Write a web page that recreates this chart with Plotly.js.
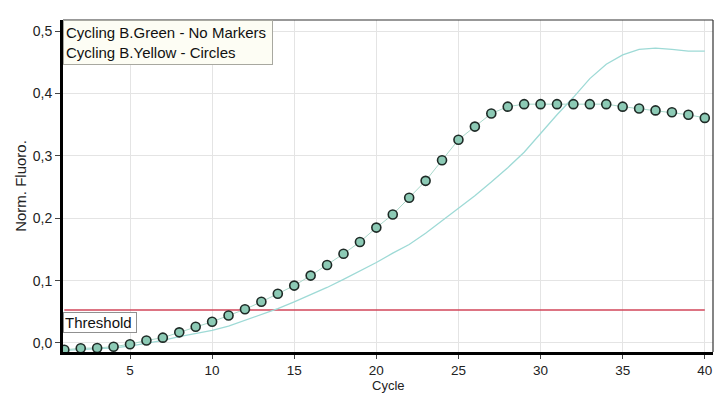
<!DOCTYPE html>
<html>
<head>
<meta charset="utf-8">
<script src="https://cdn.plot.ly/plotly-3.0.1.min.js"></script>
<style>
  html, body { margin: 0; padding: 0; background: #ffffff; }
  #chart { width: 715px; height: 394px; }
</style>
</head>
<body>
<div id="chart"></div>
<script>
// Amplification curves, normalised fluorescence per cycle
const cycles = [1,2,3,4,5,6,7,8,9,10,11,12,13,14,15,16,17,18,19,20,
                21,22,23,24,25,26,27,28,29,30,31,32,33,34,35,36,37,38,39,40];

// Cycling B.Green (plain line)
const greenValues = [-0.012,-0.011,-0.010,-0.008,-0.005,-0.001,0.004,0.010,0.015,0.020,
                     0.027,0.036,0.045,0.055,0.066,0.077,0.089,0.102,0.115,0.129,
                     0.144,0.158,0.176,0.196,0.215,0.236,0.258,0.281,0.306,0.336,
                     0.366,0.394,0.424,0.447,0.462,0.471,0.473,0.471,0.468,0.468];

// Cycling B.Yellow (circles)
const yellowValues = [-0.011,-0.0085,-0.008,-0.006,-0.002,0.004,0.0085,0.017,0.026,0.034,
                      0.044,0.054,0.066,0.079,0.092,0.108,0.125,0.143,0.162,0.185,
                      0.206,0.233,0.260,0.293,0.326,0.347,0.368,0.379,0.383,0.383,
                      0.383,0.383,0.383,0.383,0.379,0.376,0.373,0.370,0.366,0.361];

const thresholdCycles = [1, 40];
const thresholdValue = 0.053;

const legendLines = ['Cycling B.Green - No Markers', 'Cycling B.Yellow - Circles'];
const thresholdLabel = 'Threshold';
const xTitle = 'Cycle';
const yTitle = 'Norm. Fluoro.';

const font = 'Liberation Sans, Arial, sans-serif';
const textColor = '#222222';

const traces = [
  {
    x: thresholdCycles,
    y: thresholdCycles.map(() => thresholdValue),
    mode: 'lines',
    line: { color: '#d2465a', width: 1.5 },
    hoverinfo: 'skip'
  },
  {
    x: cycles,
    y: greenValues,
    mode: 'lines',
    line: { color: '#9edad6', width: 1.3 },
    name: legendLines[0]
  },
  {
    x: cycles,
    y: yellowValues,
    mode: 'lines+markers',
    line: { color: '#a9d9cb', width: 1 },
    marker: { size: 9, color: '#8ccab5', line: { color: '#1e2a26', width: 1.6 } },
    name: legendLines[1]
  }
];

const layout = {
  width: 715,
  height: 394,
  margin: { l: 63, r: 2, t: 20, b: 42 },
  paper_bgcolor: '#ffffff',
  plot_bgcolor: '#ffffff',
  showlegend: false,
  separators: ',.',
  font: { family: font, size: 14, color: textColor },
  xaxis: {
    range: [0.92, 40.5],
    tick0: 5,
    dtick: 5,
    ticks: 'outside',
    ticklen: 4,
    tickcolor: '#444444',
    showgrid: true,
    gridcolor: '#e4e4e4',
    gridwidth: 1,
    zeroline: false,
    showline: true,
    linecolor: '#000000',
    linewidth: 3,
    tickfont: { family: font, size: 13.5, color: textColor }
  },
  yaxis: {
    range: [-0.0145, 0.518],
    tick0: 0,
    dtick: 0.1,
    tickformat: '.1f',
    ticks: 'outside',
    ticklen: 5,
    tickcolor: '#444444',
    showgrid: true,
    gridcolor: '#e4e4e4',
    gridwidth: 1,
    zeroline: false,
    showline: true,
    linecolor: '#000000',
    linewidth: 3,
    tickfont: { family: font, size: 14, color: textColor },
    title: { text: yTitle, standoff: 3, font: { family: font, size: 15, color: textColor } }
  },
  shapes: [
    // thin frame on the top and right edges
    { type: 'line', xref: 'paper', yref: 'paper', x0: 0, x1: 1, y0: 1, y1: 1,
      line: { color: '#333333', width: 1.2 } },
    { type: 'line', xref: 'paper', yref: 'paper', x0: 1, x1: 1, y0: 0, y1: 1,
      line: { color: '#333333', width: 1.2 } }
  ],
  annotations: [
    {
      // x-axis title, resting on the bottom edge of the page
      xref: 'paper', yref: 'paper', x: 0.5, y: -0.1265,
      xanchor: 'center', yanchor: 'bottom',
      text: xTitle,
      showarrow: false,
      borderpad: 0,
      font: { family: font, size: 13, color: textColor }
    },
    {
      xref: 'paper', yref: 'paper', x: 0, y: 1,
      xanchor: 'left', yanchor: 'top', align: 'left',
      width: 204, height: 39,
      text: legendLines.join('<br>'),
      showarrow: false,
      bgcolor: '#fdfdf4',
      bordercolor: '#a8a8a0',
      borderwidth: 1,
      borderpad: 2,
      font: { family: font, size: 15, color: '#111111' }
    },
    {
      xref: 'paper', yref: 'paper', x: 0, y: 0.057,
      xanchor: 'left', yanchor: 'bottom', align: 'left',
      width: 70, height: 17,
      text: thresholdLabel,
      showarrow: false,
      bgcolor: '#ffffff',
      bordercolor: '#909090',
      borderwidth: 1,
      borderpad: 1,
      font: { family: font, size: 15, color: '#111111' }
    }
  ]
};

Plotly.newPlot('chart', traces, layout, { displayModeBar: false, staticPlot: true });
</script>
</body>
</html>
